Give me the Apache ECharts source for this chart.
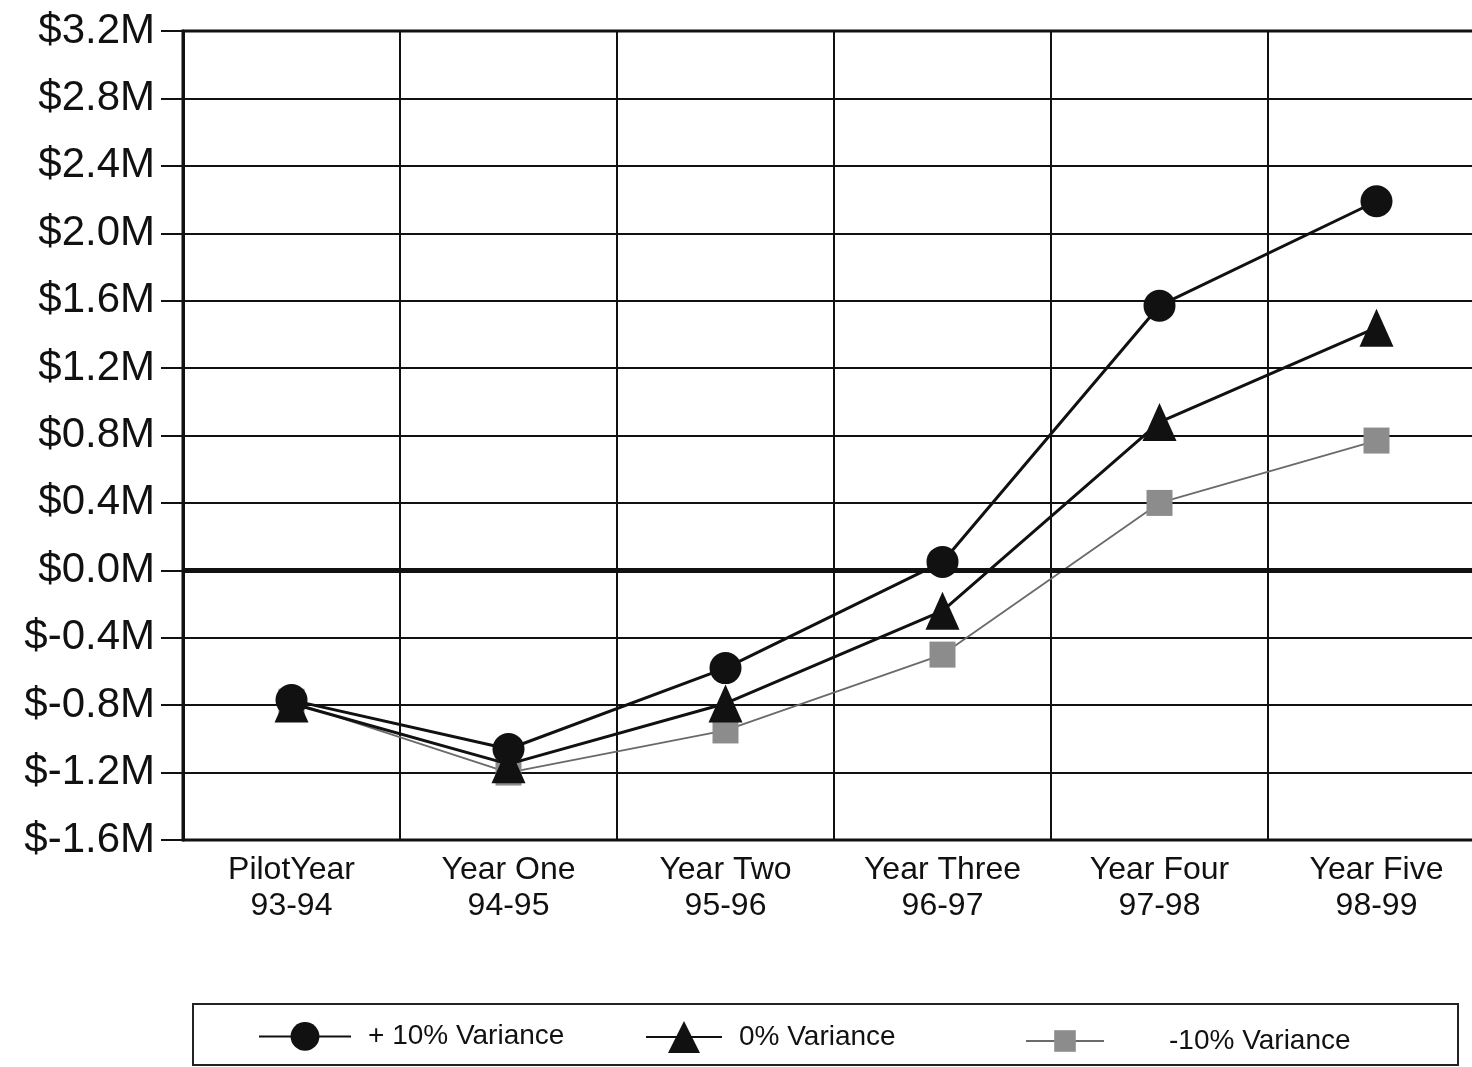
<!DOCTYPE html>
<html>
<head>
<meta charset="utf-8">
<script src="https://cdn.jsdelivr.net/npm/echarts@6/dist/echarts.min.js"></script>
<style>
  html, body { margin: 0; padding: 0; background: #fff; }
  #chart { width: 1472px; height: 1067px; }
</style>
</head>
<body>
<div id="chart"></div>
<script>
// Fiscal years shown along the bottom axis
var years = ['PilotYear\n93-94', 'Year One\n94-95', 'Year Two\n95-96', 'Year Three\n96-97', 'Year Four\n97-98', 'Year Five\n98-99'];

// Net position in millions of dollars for each variance scenario
var plus10 = [-0.77, -1.06, -0.58, 0.05, 1.57, 2.19];
var zero = [-0.79, -1.15, -0.79, -0.24, 0.88, 1.44];
var minus10 = [-0.78, -1.2, -0.95, -0.5, 0.4, 0.77];

var seriesNames = ['+ 10% Variance', '0% Variance', '-10% Variance'];

// Value axis range (millions)
var yMin = -1.6, yMax = 3.2, yStep = 0.4;

var font = '"Liberation Sans", Arial, Helvetica, sans-serif';

var chart = echarts.init(document.getElementById('chart'), null, { renderer: 'canvas' });

var legendText = { fontFamily: font, fontSize: 28, color: '#111', padding: [0, 0, 0, 12] };

chart.setOption({
  backgroundColor: '#fff',
  animation: false,
  grid: {
    left: 183, top: 31, bottom: 227, width: 1302,
    outerBoundsMode: 'none',
    containLabel: false,
    show: true, borderColor: '#111', borderWidth: 3
  },
  legend: [
    { left: 253, top: 1017, itemWidth: 92, itemHeight: 36, textStyle: legendText, data: [seriesNames[0]] },
    { left: 640, top: 1016, itemWidth: 76, itemHeight: 40, textStyle: legendText, data: [seriesNames[1]] },
    { left: 1020, top: 1022, itemWidth: 78, itemHeight: 27,
      textStyle: Object.assign({}, legendText, { padding: [0, 0, 0, 60] }), data: [seriesNames[2]] }
  ],
  graphic: [{
    type: 'rect',
    shape: { x: 193, y: 1004, width: 1265, height: 61 },
    style: { fill: 'none', stroke: '#222', lineWidth: 2 },
    silent: true
  }],
  xAxis: {
    type: 'category',
    data: years,
    boundaryGap: true,
    axisLine: { show: true, lineStyle: { color: '#111', width: 3 } },
    axisTick: { show: false },
    splitLine: { show: true, lineStyle: { color: '#111', width: 2 } },
    axisLabel: {
      fontFamily: font, fontSize: 32, color: '#111', lineHeight: 36, margin: 12
    }
  },
  yAxis: {
    type: 'value',
    min: yMin, max: yMax, interval: yStep,
    axisLine: { show: true, lineStyle: { color: '#111', width: 3 } },
    axisTick: { show: true, length: 22, lineStyle: { color: '#111', width: 2 } },
    splitLine: { show: true, lineStyle: { color: '#111', width: 2 } },
    axisLabel: {
      fontFamily: font, fontSize: 42, color: '#111', margin: 28,
      formatter: function (v) { return '$' + v.toFixed(1) + 'M'; }
    }
  },
  series: [
    {
      name: seriesNames[2],
      type: 'line',
      data: minus10,
      symbol: 'rect',
      symbolSize: 26,
      itemStyle: { color: '#8c8c8c' },
      lineStyle: { color: '#6a6a6a', width: 1.8 },
      z: 3
    },
    {
      name: seriesNames[1],
      type: 'line',
      data: zero,
      symbol: 'triangle',
      symbolSize: [34, 38],
      itemStyle: { color: '#111' },
      lineStyle: { color: '#111', width: 3 },
      z: 4
    },
    {
      name: seriesNames[0],
      type: 'line',
      data: plus10,
      symbol: 'circle',
      symbolSize: 32,
      itemStyle: { color: '#111' },
      lineStyle: { color: '#111', width: 3 },
      markLine: {
        silent: true,
        symbol: 'none',
        label: { show: false },
        lineStyle: { color: '#111', width: 5, type: 'solid' },
        data: [{ yAxis: 0 }]
      },
      z: 5
    }
  ]
});
</script>
</body>
</html>
